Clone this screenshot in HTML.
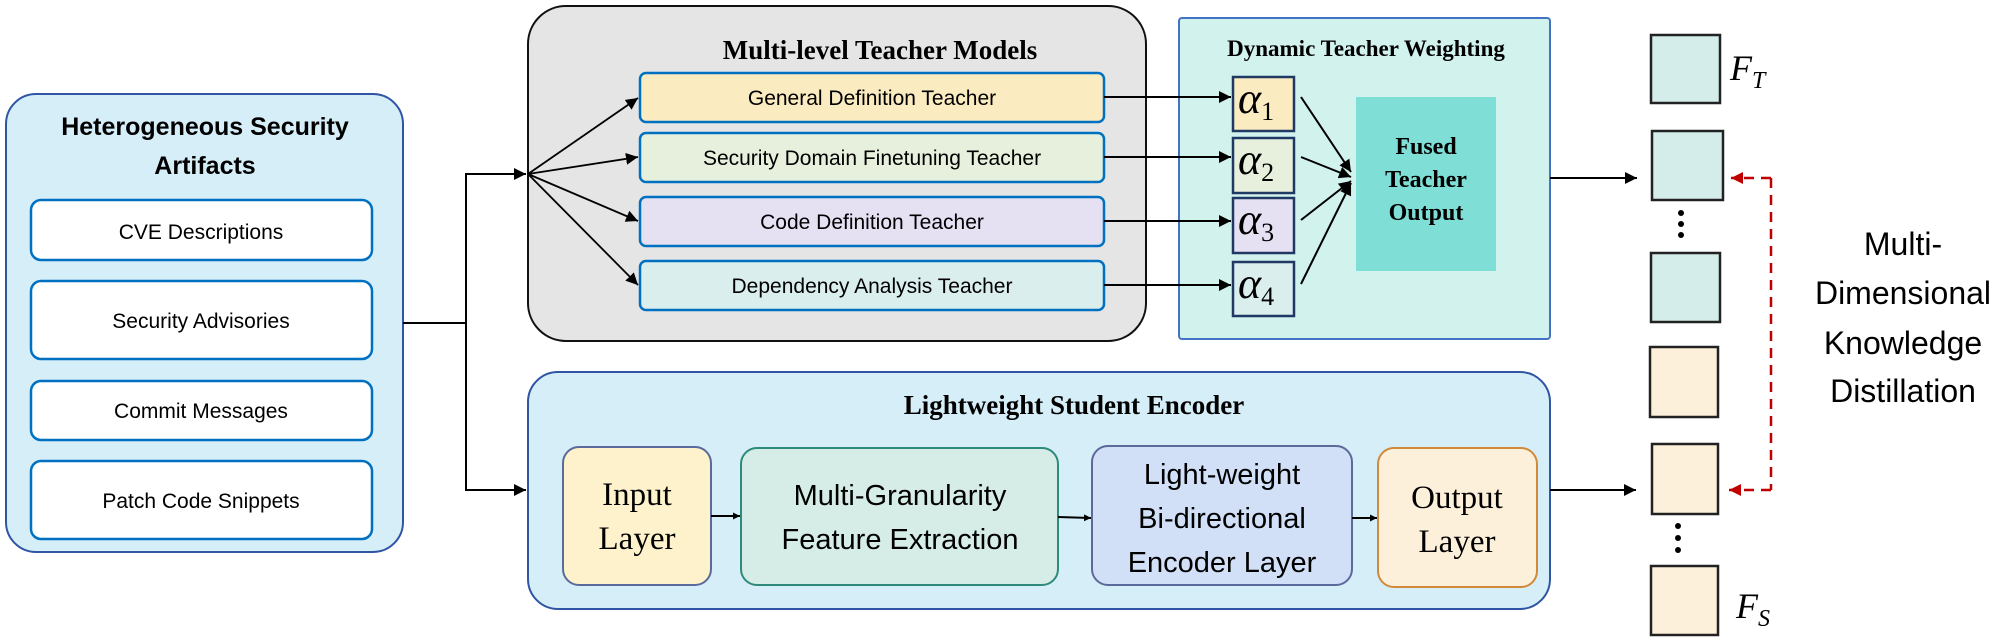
<!DOCTYPE html>
<html><head><meta charset="utf-8"><style>
html,body{margin:0;padding:0;background:#fff}
svg{display:block}
.c{font-family:"Liberation Sans",sans-serif}
.s{font-family:"Liberation Serif",serif}
</style></head><body>
<svg width="2010" height="641" viewBox="0 0 2010 641" xmlns="http://www.w3.org/2000/svg">
<defs>
<marker id="a" viewBox="0 0 10 10" refX="10" refY="5" markerWidth="7" markerHeight="7" markerUnits="userSpaceOnUse" orient="auto"><path d="M0,0 L10,5 L0,10 z" fill="#000"/></marker>
<marker id="ab" viewBox="0 0 10 10" refX="10" refY="5" markerWidth="12" markerHeight="12" markerUnits="userSpaceOnUse" orient="auto"><path d="M0,0 L10,5 L0,10 z" fill="#000"/></marker>
<marker id="r" viewBox="0 0 10 10" refX="10" refY="5" markerWidth="12" markerHeight="12" markerUnits="userSpaceOnUse" orient="auto"><path d="M0,0 L10,5 L0,10 z" fill="#c00000"/></marker>
</defs>
<rect x="6" y="94" width="397" height="458" rx="30" fill="#d6eef8" stroke="#2f55a4" stroke-width="2"/>
<text x="205" y="135" text-anchor="middle" class="c" font-size="25" font-weight="bold">Heterogeneous Security</text>
<text x="205" y="174" text-anchor="middle" class="c" font-size="25" font-weight="bold">Artifacts</text>
<g fill="#fff" stroke="#0070c0" stroke-width="2.5">
<rect x="31" y="200" width="341" height="60" rx="10"/>
<rect x="31" y="281" width="341" height="78" rx="10"/>
<rect x="31" y="381" width="341" height="59" rx="10"/>
<rect x="31" y="461" width="341" height="78" rx="10"/>
</g>
<g class="c" font-size="21" text-anchor="middle">
<text x="201" y="239">CVE Descriptions</text>
<text x="201" y="328">Security Advisories</text>
<text x="201" y="418">Commit Messages</text>
<text x="201" y="508">Patch Code Snippets</text>
</g>
<g stroke="#000" stroke-width="2" fill="none">
<polyline points="403,323 466,323 466,174 526,174" marker-end="url(#ab)"/>
<polyline points="466,323 466,490 526,490" marker-end="url(#ab)"/>
</g>
<rect x="528" y="6" width="618" height="335" rx="38" fill="#e5e5e5" stroke="#111" stroke-width="2"/>
<text x="880" y="59" text-anchor="middle" class="s" font-size="27" font-weight="bold">Multi-level Teacher Models</text>
<rect x="640" y="73" width="464" height="49" rx="6" fill="#faebc0" stroke="#0070c0" stroke-width="2.5"/>
<rect x="640" y="133" width="464" height="49" rx="6" fill="#e7f0dc" stroke="#0070c0" stroke-width="2.5"/>
<rect x="640" y="197" width="464" height="49" rx="6" fill="#e6e0f3" stroke="#0070c0" stroke-width="2.5"/>
<rect x="640" y="261" width="464" height="49" rx="6" fill="#dbeeee" stroke="#0070c0" stroke-width="2.5"/>
<g class="c" font-size="21" text-anchor="middle">
<text x="872" y="105">General Definition Teacher</text>
<text x="872" y="165">Security Domain Finetuning Teacher</text>
<text x="872" y="229">Code Definition Teacher</text>
<text x="872" y="293">Dependency Analysis Teacher</text>
</g>
<g stroke="#000" stroke-width="1.8">
<line x1="528" y1="174" x2="638" y2="98" marker-end="url(#ab)"/>
<line x1="528" y1="174" x2="638" y2="157" marker-end="url(#ab)"/>
<line x1="528" y1="174" x2="638" y2="221" marker-end="url(#ab)"/>
<line x1="528" y1="174" x2="638" y2="285" marker-end="url(#ab)"/>
</g>
<rect x="1179" y="18" width="371" height="321" rx="3" fill="#d2f2ee" stroke="#4472c4" stroke-width="2"/>
<text x="1366" y="56" text-anchor="middle" class="s" font-size="23" font-weight="bold">Dynamic Teacher Weighting</text>
<g stroke="#1f3864" stroke-width="2.5">
<rect x="1233" y="77" width="61" height="54" fill="#faebc0"/>
<rect x="1233" y="138" width="61" height="55" fill="#e7f0dc"/>
<rect x="1233" y="198" width="61" height="55" fill="#e6e0f3"/>
<rect x="1233" y="262" width="61" height="54" fill="#dbeeee"/>
</g>
<g class="s" font-size="44" font-style="italic">
<text x="1238" y="113">α<tspan font-size="26" font-style="normal" dy="7">1</tspan></text>
<text x="1238" y="174">α<tspan font-size="26" font-style="normal" dy="7">2</tspan></text>
<text x="1238" y="234">α<tspan font-size="26" font-style="normal" dy="7">3</tspan></text>
<text x="1238" y="298">α<tspan font-size="26" font-style="normal" dy="7">4</tspan></text>
</g>
<g stroke="#000" stroke-width="2">
<line x1="1104" y1="97" x2="1231" y2="97" marker-end="url(#ab)"/>
<line x1="1104" y1="157" x2="1231" y2="157" marker-end="url(#ab)"/>
<line x1="1104" y1="221" x2="1231" y2="221" marker-end="url(#ab)"/>
<line x1="1104" y1="285" x2="1231" y2="285" marker-end="url(#ab)"/>
<line x1="1301" y1="97" x2="1351" y2="172" marker-end="url(#ab)"/>
<line x1="1301" y1="157" x2="1351" y2="177" marker-end="url(#ab)"/>
<line x1="1301" y1="220" x2="1351" y2="181" marker-end="url(#ab)"/>
<line x1="1301" y1="284" x2="1351" y2="183" marker-end="url(#ab)"/>
</g>
<rect x="1356" y="97" width="140" height="174" fill="#7fdfd6"/>
<g class="s" font-size="24" font-weight="bold" text-anchor="middle">
<text x="1426" y="154">Fused</text>
<text x="1426" y="187">Teacher</text>
<text x="1426" y="220">Output</text>
</g>
<rect x="528" y="372" width="1022" height="237" rx="30" fill="#d6eef8" stroke="#2f55a4" stroke-width="2"/>
<text x="1074" y="414" text-anchor="middle" class="s" font-size="27" font-weight="bold">Lightweight Student Encoder</text>
<rect x="563" y="447" width="148" height="138" rx="16" fill="#fdf2cc" stroke="#5b6a9a" stroke-width="2"/>
<rect x="741" y="448" width="317" height="137" rx="16" fill="#d5ede6" stroke="#2e8b7a" stroke-width="2"/>
<rect x="1092" y="446" width="260" height="139" rx="16" fill="#d1e0f7" stroke="#5b6a9a" stroke-width="2"/>
<rect x="1378" y="448" width="159" height="139" rx="16" fill="#fdf0da" stroke="#d08a3a" stroke-width="2"/>
<g class="s" font-size="33" text-anchor="middle">
<text x="637" y="505">Input</text>
<text x="637" y="549">Layer</text>
<text x="1457" y="508">Output</text>
<text x="1457" y="552">Layer</text>
</g>
<g class="c" font-size="29" text-anchor="middle">
<text x="900" y="505">Multi-Granularity</text>
<text x="900" y="549">Feature Extraction</text>
<text x="1222" y="484">Light-weight</text>
<text x="1222" y="528">Bi-directional</text>
<text x="1222" y="572">Encoder Layer</text>
</g>
<g stroke="#000" stroke-width="2">
<line x1="711" y1="516" x2="740" y2="516" marker-end="url(#a)"/>
<line x1="1058" y1="517" x2="1091" y2="518" marker-end="url(#a)"/>
<line x1="1352" y1="518" x2="1377" y2="518" marker-end="url(#a)"/>
<line x1="1550" y1="178" x2="1637" y2="178" marker-end="url(#ab)"/>
<line x1="1550" y1="490" x2="1636" y2="490" marker-end="url(#ab)"/>
</g>
<g stroke="#222" stroke-width="2.5">
<rect x="1651" y="35" width="69" height="68" fill="#d4edea"/>
<rect x="1652" y="131" width="71" height="69" fill="#d4edea"/>
<rect x="1651" y="253" width="69" height="69" fill="#d4edea"/>
<rect x="1650" y="347" width="68" height="70" fill="#fcf0da"/>
<rect x="1652" y="444" width="66" height="70" fill="#fcf0da"/>
<rect x="1651" y="566" width="67" height="69" fill="#fcf0da"/>
</g>
<g fill="#000">
<circle cx="1681" cy="213" r="3"/><circle cx="1681" cy="224" r="3"/><circle cx="1681" cy="235" r="3"/>
<circle cx="1678" cy="526" r="3"/><circle cx="1678" cy="538" r="3"/><circle cx="1678" cy="550" r="3"/>
</g>
<g class="s" font-size="36" font-style="italic">
<text x="1730" y="80">F<tspan font-size="24" dy="8">T</tspan></text>
<text x="1736" y="618">F<tspan font-size="24" dy="8">S</tspan></text>
</g>
<polyline points="1771,178 1771,490" stroke="#c00000" stroke-width="2.5" stroke-dasharray="10,7" fill="none"/>
<line x1="1771" y1="178" x2="1731" y2="178" stroke="#c00000" stroke-width="2.5" stroke-dasharray="10,7" marker-end="url(#r)"/>
<line x1="1771" y1="490" x2="1729" y2="490" stroke="#c00000" stroke-width="2.5" stroke-dasharray="10,7" marker-end="url(#r)"/>
<g class="c" font-size="32" text-anchor="middle">
<text x="1903" y="255">Multi-</text>
<text x="1903" y="304">Dimensional</text>
<text x="1903" y="354">Knowledge</text>
<text x="1903" y="402">Distillation</text>
</g>
</svg>
</body></html>
